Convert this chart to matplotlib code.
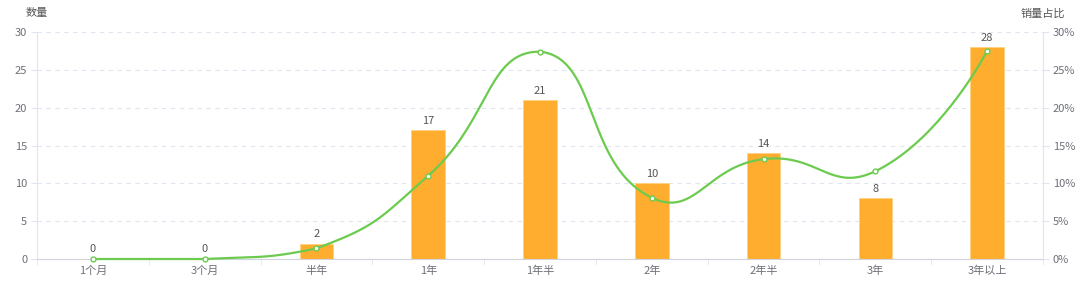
import numpy as np
import matplotlib
matplotlib.use("Agg")
import matplotlib.pyplot as plt

plt.rcParams['font.family'] = ['Noto Sans CJK SC', 'DejaVu Sans']

categories = ["1个月", "3个月", "半年", "1年", "1年半", "2年", "2年半", "3年", "3年以上"]
counts = [0, 0, 2, 17, 21, 10, 14, 8, 28]
share_pct = [0, 0, 1.4, 11.0, 27.4, 8.1, 13.2, 11.6, 27.5]

bar_color = "#FFAD2E"
line_color = "#6CCB4E"
text_color = "#6E7079"
grid_color = "#E0E6F1"

fig = plt.figure(figsize=(10.8, 2.98), dpi=100)
ax = fig.add_axes([37 / 1080, 39 / 298, 1006 / 1080, 227 / 298])
ax2 = ax.twinx()

x = np.arange(len(categories))
ax.bar(x, counts, width=0.3, color=bar_color, edgecolor="#FFD27F", linewidth=0.6, zorder=2)
for xi, c in zip(x, counts):
    ax.text(xi, c + 0.6, str(c), ha="center", va="bottom", fontsize=8, color="#555555")

ax.set_xlim(-0.5, len(categories) - 0.5)
ax.set_ylim(0, 30)
ax.set_yticks(range(0, 31, 5))
ax2.set_ylim(0, 30)
ax2.set_yticks(range(0, 31, 5))
ax2.set_yticklabels([f"{v}%" for v in range(0, 31, 5)])

ax.set_xticks(x)
ax.set_xticklabels(categories)
ax.set_xticks(np.arange(-0.5, len(categories), 1), minor=True)
ax.tick_params(axis="x", which="major", length=0, labelsize=8, colors=text_color, pad=5)
ax.tick_params(axis="x", which="minor", length=4, color=grid_color)
ax.tick_params(axis="y", length=4, color=grid_color, labelsize=8, labelcolor=text_color, pad=3)
ax2.tick_params(axis="y", length=4, color=grid_color, labelsize=8, labelcolor=text_color, pad=3)

ax.grid(axis="y", color=grid_color, linestyle=(0, (4, 4)), linewidth=0.8, zorder=0)
ax.set_axisbelow(True)
for a in (ax, ax2):
    a.spines["top"].set_visible(False)
    a.spines["left"].set_color(grid_color)
    a.spines["right"].set_color(grid_color)
    a.spines["bottom"].set_color("#D0D3DB")
ax.spines["right"].set_visible(False)
ax2.spines["left"].set_visible(False)
ax2.spines["bottom"].set_visible(False)

# smooth line (echarts style bezier with bbox constraint), in display space
fig.canvas.draw()
pts = ax2.transData.transform(np.column_stack([x, share_pct]))
smooth = 0.5
lo = pts.min(axis=0)
hi = pts.max(axis=0)
n = len(pts)
cps = []
for i in range(n):
    p = pts[i]
    if i == 0 or i == n - 1:
        cps.append((p.copy(), p.copy()))
        continue
    prv, nxt = pts[i - 1], pts[i + 1]
    v = (nxt - prv) * smooth
    d0 = np.linalg.norm(p - prv)
    d1 = np.linalg.norm(p - nxt)
    s = d0 + d1
    if s:
        d0, d1 = d0 / s, d1 / s
    c0 = np.clip(p - v * d0, lo, hi)
    c1 = np.clip(p + v * d1, lo, hi)
    cps.append((c0, c1))

path = []
t = np.linspace(0, 1, 40)[:, None]
for i in range(n - 1):
    p0, p1 = pts[i], pts[i + 1]
    c1 = cps[i][1]
    c2 = cps[i + 1][0]
    seg = ((1 - t) ** 3) * p0 + 3 * ((1 - t) ** 2) * t * c1 + 3 * (1 - t) * t ** 2 * c2 + t ** 3 * p1
    path.append(seg if i == 0 else seg[1:])
curve = ax2.transData.inverted().transform(np.vstack(path))
ax2.plot(curve[:, 0], curve[:, 1], color=line_color, linewidth=1.6, zorder=3, clip_on=False)
ax2.plot(x, share_pct, linestyle="none", marker="o", markersize=3.5,
         markerfacecolor="white", markeredgecolor=line_color, markeredgewidth=1, zorder=4, clip_on=False)

fig.text(37 / 1080, 1 - 13 / 298, "数量", fontsize=8, color="#555555", va="center", ha="center")
fig.text(1043 / 1080, 1 - 14 / 298, "销量占比", fontsize=8, color="#555555", va="center", ha="center")

fig.savefig("out.png", dpi=100)
